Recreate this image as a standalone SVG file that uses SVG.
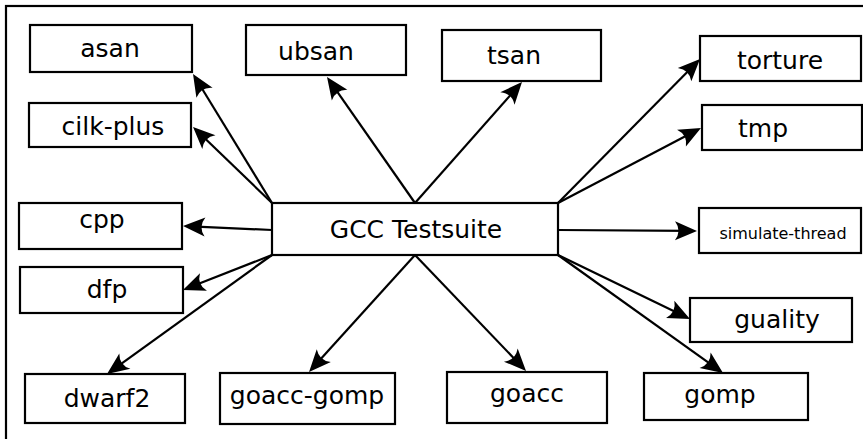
<svg xmlns="http://www.w3.org/2000/svg" width="863" height="439" viewBox="0 0 863 439">
<style>
  .box { fill: #fff; stroke: #000; stroke-width: 2.2; }
  .lbl { font-family: "DejaVu Sans", sans-serif; font-size: 25px; fill: #000; text-anchor: middle; }
  .small { font-size: 16px; }
  .edge { stroke: #000; stroke-width: 2.2; fill: none; marker-end: url(#arr); }
</style>
<defs>
  <marker id="arr" markerUnits="userSpaceOnUse" orient="auto" refX="0" refY="0" markerWidth="40" markerHeight="40" viewBox="-20 -20 40 40" overflow="visible">
    <path d="M8,0 L-14,-9.5 Q-7,0 -14,9.5 Z" fill="#000"/>
  </marker>
</defs>
<rect x="0" y="0" width="863" height="439" fill="#fff"/>
<rect x="6" y="6" width="900" height="500" fill="none" stroke="#000" stroke-width="2.2"/>

<g id="connectors">
  <line class="edge" x1="272" y1="203" x2="197.2" y2="80.8"/>
  <line class="edge" x1="272" y1="203" x2="198.8" y2="132.5"/>
  <line class="edge" x1="415" y1="203" x2="331.6" y2="83.6"/>
  <line class="edge" x1="415" y1="203" x2="516.7" y2="88.0"/>
  <line class="edge" x1="558" y1="203" x2="694.4" y2="64.7"/>
  <line class="edge" x1="558" y1="203" x2="693.9" y2="131.7"/>
  <line class="edge" x1="558" y1="230" x2="689" y2="230.9"/>
  <line class="edge" x1="558" y1="255" x2="682.8" y2="315.5"/>
  <line class="edge" x1="558" y1="255" x2="716.5" y2="368.3"/>
  <line class="edge" x1="415" y1="255" x2="520.5" y2="365.2"/>
  <line class="edge" x1="415" y1="255" x2="314.4" y2="366.1"/>
  <line class="edge" x1="272" y1="230" x2="191" y2="226.4"/>
  <line class="edge" x1="272" y1="255" x2="190.4" y2="287.1"/>
  <line class="edge" x1="272" y1="255" x2="113.5" y2="369.3"/>
</g>

<g id="gcc">
  <rect class="box" x="272" y="203" width="286" height="52"/>
  <text class="lbl" x="416" y="238">GCC Testsuite</text>
</g>
<g id="asan">
  <rect class="box" x="30" y="25" width="162" height="47"/>
  <text class="lbl" x="110" y="57">asan</text>
</g>
<g id="cilk-plus">
  <rect class="box" x="29" y="103" width="162" height="44"/>
  <text class="lbl" x="113" y="135">cilk-plus</text>
</g>
<g id="ubsan">
  <rect class="box" x="246" y="25" width="160" height="50"/>
  <text class="lbl" x="316" y="60">ubsan</text>
</g>
<g id="tsan">
  <rect class="box" x="442" y="30" width="159" height="51"/>
  <text class="lbl" x="514" y="64">tsan</text>
</g>
<g id="torture">
  <rect class="box" x="700" y="36" width="161" height="45"/>
  <text class="lbl" x="780" y="69">torture</text>
</g>
<g id="tmp">
  <rect class="box" x="702" y="105" width="160" height="45"/>
  <text class="lbl" x="763" y="137">tmp</text>
</g>
<g id="simulate-thread">
  <rect class="box" x="699" y="208" width="162" height="45"/>
  <text class="lbl small" x="783" y="239">simulate-thread</text>
</g>
<g id="guality">
  <rect class="box" x="690" y="298" width="162" height="44"/>
  <text class="lbl" x="777" y="328">guality</text>
</g>
<g id="gomp">
  <rect class="box" x="644" y="373" width="164" height="47"/>
  <text class="lbl" x="720" y="403">gomp</text>
</g>
<g id="goacc">
  <rect class="box" x="447" y="372" width="160" height="51"/>
  <text class="lbl" x="527" y="402">goacc</text>
</g>
<g id="goacc-gomp">
  <rect class="box" x="220" y="373" width="175" height="51"/>
  <text class="lbl" x="307" y="404">goacc-gomp</text>
</g>
<g id="dwarf2">
  <rect class="box" x="25" y="374" width="160" height="49"/>
  <text class="lbl" x="107" y="407">dwarf2</text>
</g>
<g id="cpp">
  <rect class="box" x="19" y="203" width="163" height="46"/>
  <text class="lbl" x="102" y="228">cpp</text>
</g>
<g id="dfp">
  <rect class="box" x="20" y="267" width="163" height="46"/>
  <text class="lbl" x="107" y="298">dfp</text>
</g>
</svg>
